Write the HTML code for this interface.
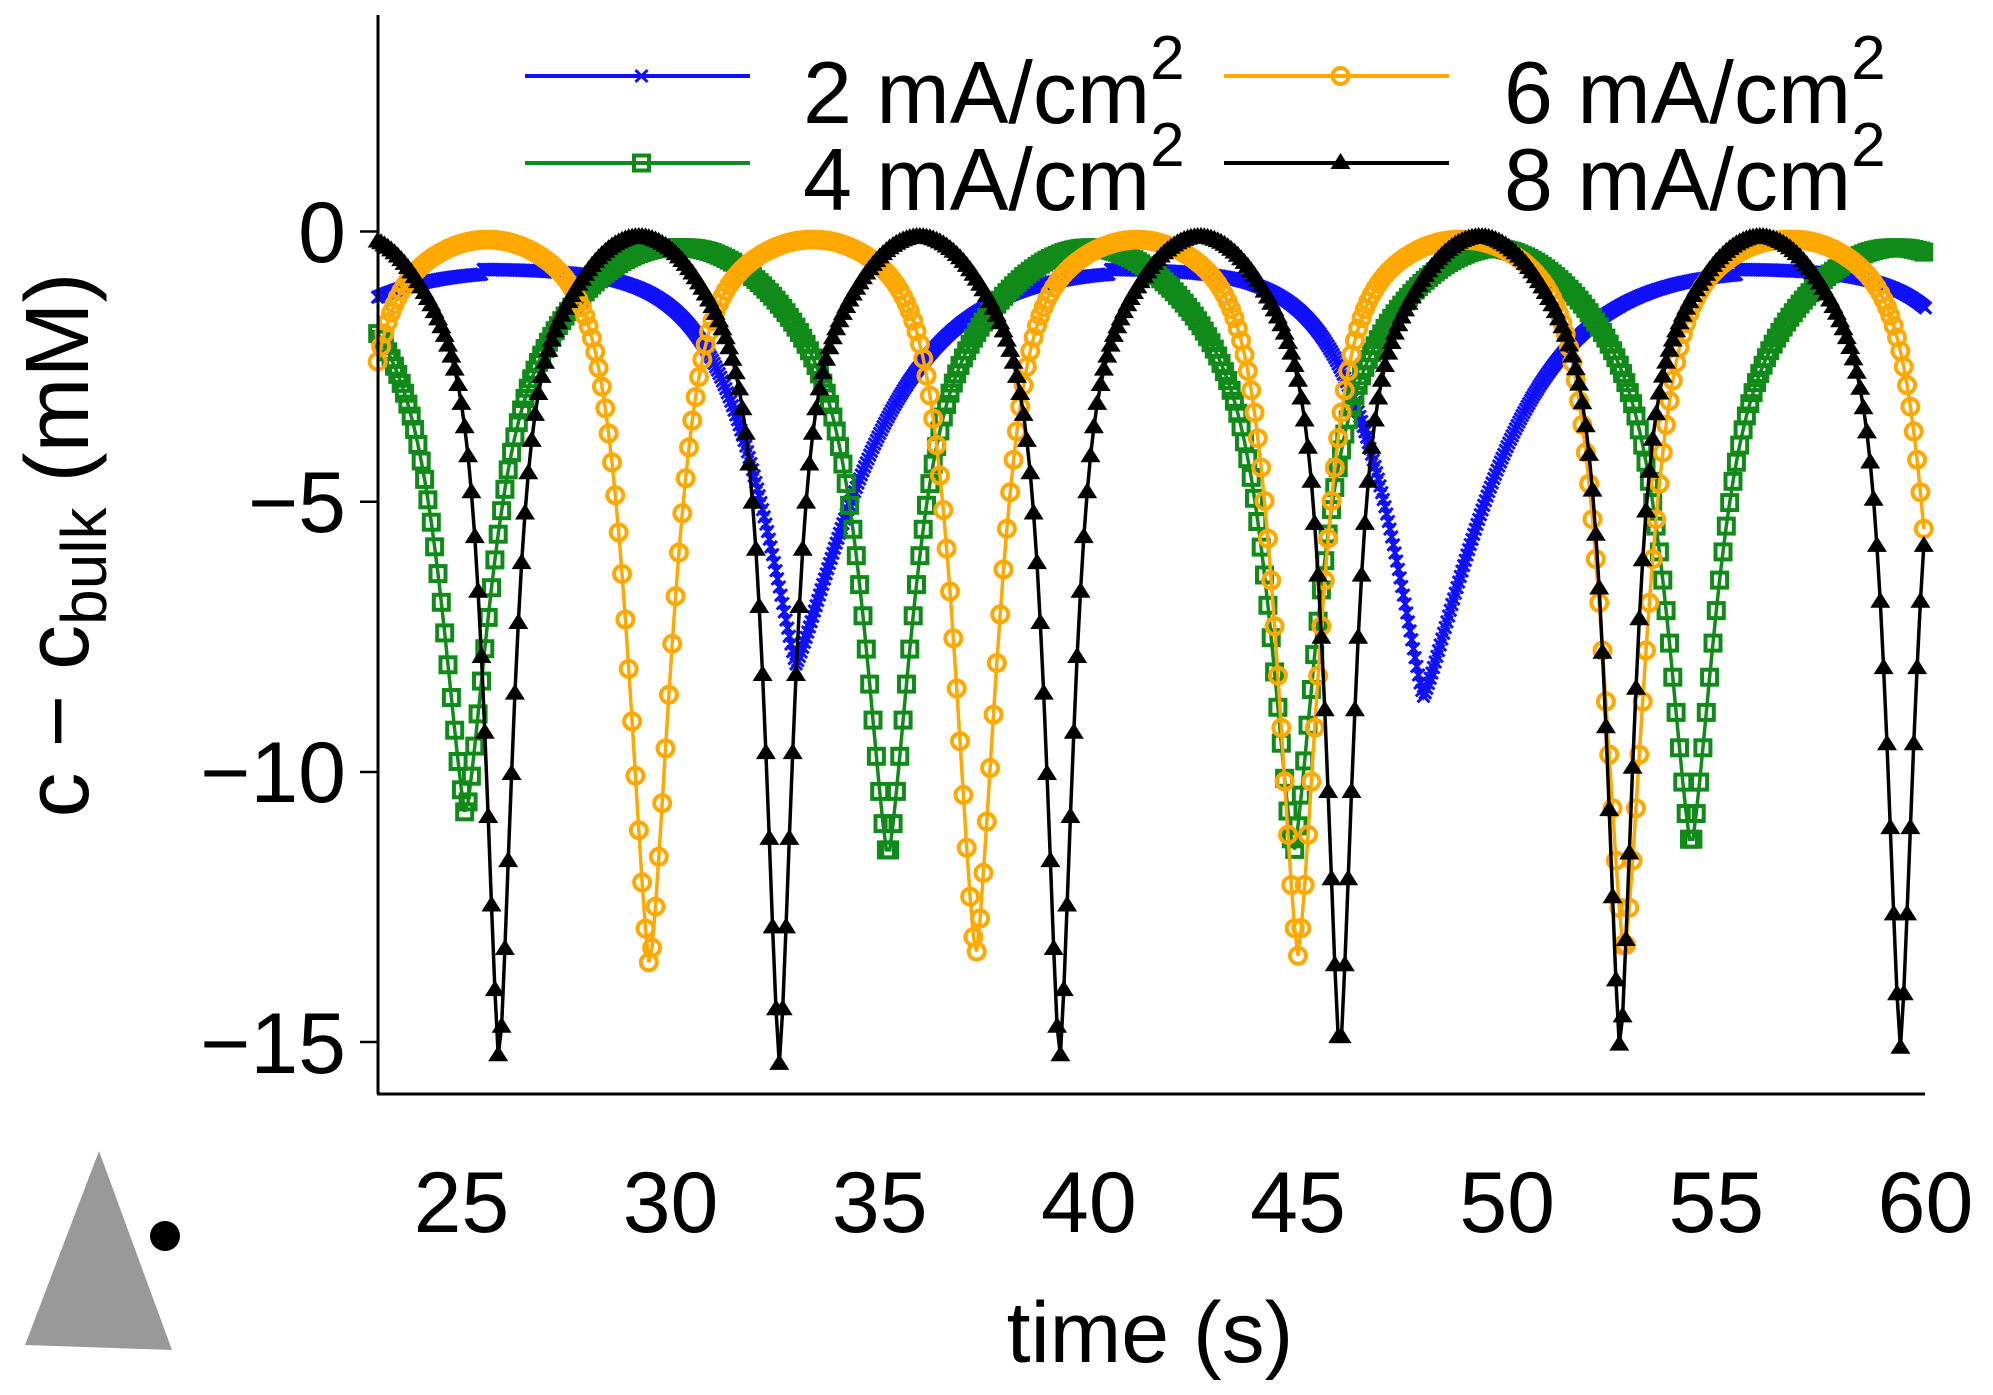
<!DOCTYPE html>
<html><head><meta charset="utf-8"><style>
html,body{margin:0;padding:0;background:#fff;}
svg{display:block;}
text{font-family:"Liberation Sans",sans-serif;fill:#000;}
</style></head><body>
<svg id="s" width="1993" height="1395" viewBox="0 0 1993 1395" xmlns="http://www.w3.org/2000/svg">
<defs><clipPath id="cp"><rect x="365" y="15" width="1580" height="1080"/></clipPath></defs>
<g id="plot" clip-path="url(#cp)"></g>
<line x1="378" y1="15" x2="378" y2="1094" stroke="#000" stroke-width="3"/>
<line x1="377" y1="1094" x2="1925" y2="1094" stroke="#000" stroke-width="3"/>
<g stroke="#000" stroke-width="2.5">
<line x1="360" y1="231.5" x2="378" y2="231.5"/><line x1="360" y1="501.7" x2="378" y2="501.7"/>
<line x1="360" y1="772" x2="378" y2="772"/><line x1="360" y1="1042" x2="378" y2="1042"/>
</g>
<g font-size="86" text-anchor="end">
<text x="346" y="262">0</text><text x="346" y="532">−5</text><text x="346" y="802">−10</text><text x="346" y="1073">−15</text>
</g>
<g font-size="86" text-anchor="middle" id="xl"></g>
<text x="1150" y="1362" font-size="86" text-anchor="middle">time (s)</text>
<text transform="translate(88,545) rotate(-90)" font-size="90" text-anchor="middle">c − c<tspan font-size="64" dy="18">bulk</tspan><tspan dy="-18"> (mM)</tspan></text>
<g id="leg"></g>
<polygon points="99,1151 25,1345 172,1350" fill="#999"/>
<circle cx="165" cy="1236" r="15" fill="#000"/>
</svg>
<script>
var NS="http://www.w3.org/2000/svg";
function X(t){return 461.4+(t-25)*41.83;}
function Y(v){return 231.5-v*54.05;}
var xl=document.getElementById('xl');
[25,30,35,40,45,50,55,60].forEach(function(t){var e=document.createElementNS(NS,'text');e.setAttribute('x',X(t));e.setAttribute('y',1232);e.textContent=t;xl.appendChild(e);});
// generic: nearest dip, parabola top + sharp dip
function shape(t,dips,h,a,wl,wr,q,top){
  var best=null;
  for(var i=0;i<dips.length;i++){var s=t-dips[i][0];if(best===null||Math.abs(s)<Math.abs(best[0]))best=[s,dips[i][1]];}
  var d=Math.abs(best[0]);var w=best[0]<0?wl:wr;
  var para=a*Math.pow(Math.max(h-d,0),2);
  var D=best[1]-a*h*h+top; // total depth relative
  return -top-para-(best[1]-top-a*h*h)*Math.exp(-Math.pow(d/w,q));
}
var series=[
 {c:'#1010ff',m:'x',step:0.04,f:function(t){return shape(t,[[18,8],[33,8.0],[48,8.6],[63,8.2]],7.5,0.006,1.4,2.2,1.2,0.7);}},
 {c:'#108a18',m:'s',step:0.08,f:function(t){return shape(t,[[15.4,10.8],[25.1,10.8],[35.2,11.6],[44.9,11.5],[54.4,11.4],[64.2,11]],4.875,0.2,0.74,0.74,1.5,0.3);}},
 {c:'#ffa800',m:'o',step:0.08,f:function(t){return shape(t,[[21.75,13.6],[29.5,13.6],[37.3,13.4],[45.0,13.4],[52.8,13.4],[60.7,13.4]],3.875,0.185,0.7,0.7,1.5,0.15);}},
 {c:'#000',m:'^',step:0.08,f:function(t){return shape(t,[[19.2,15.2],[25.9,15.4],[32.6,15.4],[39.3,15.4],[46.0,15.3],[52.7,15.2],[59.4,15.1],[66.1,15]],3.35,0.42,0.44,0.44,1.5,0.1);}}
];
function marker(m,x,y,c){
  if(m==='x')return '<path d="M'+(x-6)+','+(y-6)+'L'+(x+6)+','+(y+6)+'M'+(x-6)+','+(y+6)+'L'+(x+6)+','+(y-6)+'" stroke="'+c+'" stroke-width="3" fill="none"/>';
  if(m==='s')return '<rect x="'+(x-7.5)+'" y="'+(y-7.5)+'" width="15" height="15" fill="none" stroke="'+c+'" stroke-width="4"/>';
  if(m==='o')return '<circle cx="'+x+'" cy="'+y+'" r="8" fill="none" stroke="'+c+'" stroke-width="4"/>';
  return '<polygon points="'+x+','+(y-10)+' '+(x-10)+','+(y+6)+' '+(x+10)+','+(y+6)+'" fill="'+c+'"/>';
}
var h='';
series.forEach(function(s){
  var pts=[],mk='';
  for(var t=23;t<=60.001;t+=s.step){var x=+X(t).toFixed(1),y=+Y(s.f(t)).toFixed(1);pts.push(x+','+y);mk+=marker(s.m,x,y,s.c);}
  h+='<polyline points="'+pts.join(' ')+'" fill="none" stroke="'+s.c+'" stroke-width="3.5"/>'+mk;
});
document.getElementById('plot').innerHTML=h;
var lg='';
var L=[[525,750,76,803,'2','#1010ff','x'],[1224,1449,76,1504,'6','#ffa800','o'],[525,750,163,803,'4','#108a18','s'],[1224,1449,163,1504,'8','#000','^']];
L.forEach(function(l){
  lg+='<line x1="'+l[0]+'" y1="'+l[2]+'" x2="'+l[1]+'" y2="'+l[2]+'" stroke="'+l[5]+'" stroke-width="4"/>'+marker(l[6],(l[0]+l[1])/2+4,l[2],l[5]);
  lg+='<text x="'+l[3]+'" y="'+(l[2]+47)+'" font-size="88">'+l[4]+' mA/cm<tspan font-size="62" dy="-44">2</tspan></text>';
});
document.getElementById('leg').innerHTML=lg;
</script>
</body></html>
